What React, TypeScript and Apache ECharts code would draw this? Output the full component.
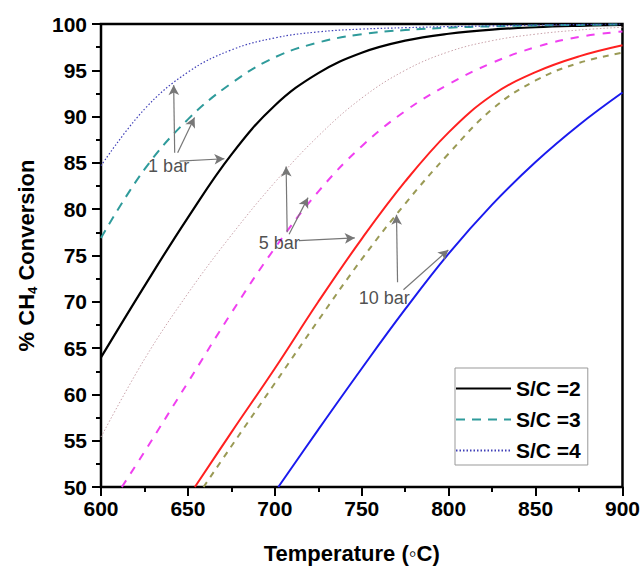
import React, { useEffect, useRef } from "react";
import * as echarts from "echarts";

// Temperatures (°C)
const temps = [600, 625, 650, 675, 700, 725, 750, 775, 800, 825, 850, 875, 900];

// 1 bar
const oneBarSC2 = [64.0, 71.7, 79.1, 85.9, 91.2, 94.7, 96.9, 98.2, 98.95, 99.4, 99.65, 99.8, 99.9];
const oneBarSC3 = [76.9, 84.3, 89.7, 93.6, 96.4, 98.0, 98.9, 99.35, 99.6, 99.75, 99.85, 99.9, 99.95];
const oneBarSC4 = [84.7, 90.8, 94.8, 97.2, 98.5, 99.15, 99.45, 99.6, 99.72, 99.8, 99.88, 99.94, 100];

// 5 bar
const fiveBarSC4 = [55.4, 63.8, 70.9, 77.2, 82.9, 87.9, 92.0, 95.0, 97.0, 98.2, 98.9, 99.35, 99.65];
const fiveBarSC3Temps = [612, 625, 650, 675, 700, 725, 750, 775, 800, 825, 850, 875, 900];
const fiveBarSC3 = [50, 53.8, 61.3, 68.8, 75.8, 81.9, 86.8, 90.6, 93.5, 95.8, 97.5, 98.6, 99.2];
const fiveBarSC2Temps = [654, 675, 700, 725, 750, 775, 800, 825, 850, 875, 900];
const fiveBarSC2 = [50, 55.9, 62.8, 70.0, 76.8, 83.0, 88.3, 92.3, 94.8, 96.5, 97.7];

// 10 bar
const tenBarSC3Temps = [659, 675, 700, 725, 750, 775, 800, 825, 850, 875, 900];
const tenBarSC3 = [50, 54.4, 61.2, 68.0, 74.6, 80.6, 86.0, 90.8, 93.9, 95.8, 96.9];
const tenBarSC2Temps = [702, 725, 750, 775, 800, 825, 850, 875, 900];
const tenBarSC2 = [50, 56.2, 62.8, 69.2, 75.2, 80.5, 85.1, 89.1, 92.6];

// Annotation labels [temperature, conversion]
const annotationNames = ["1 bar", "5 bar", "10 bar"];
const annotationPos = [
  [638.9, 84.7],
  [702.5, 76.3],
  [762.9, 70.4],
];
// Arrows: [fromX, fromY, toX, toY]
const arrows = [
  [642.4, 86.1, 641.8, 93.4],
  [644.1, 86.1, 653.8, 89.9],
  [645.2, 85.2, 671.0, 85.45],
  [707.1, 77.5, 706.5, 84.6],
  [708.2, 77.3, 719.1, 81.25],
  [713.9, 76.6, 746.0, 76.9],
  [770.6, 72.1, 770.0, 79.4],
  [774.0, 71.3, 799.8, 75.6],
];

const legendNames = ["S/C =2", "S/C =3", "S/C =4"];

const zip = (xs: number[], ys: number[]) => xs.map((x, i) => [x, ys[i]]);

const FONT = "Arial, 'Liberation Sans', sans-serif";

export default function App() {
  const ref = useRef<HTMLDivElement>(null);
  useEffect(() => {
    if (!ref.current) return;
    const chart = echarts.init(ref.current, undefined, { renderer: "svg" });
    const lineSeries = (
      name: string,
      data: number[][],
      color: string,
      width: number,
      type: any
    ) => ({
      name,
      type: "line",
      data,
      smooth: 0.4,
      symbol: "none",
      showSymbol: false,
      clip: true,
      lineStyle: { color, width, type },
      itemStyle: { color },
      z: 3,
    });
    chart.setOption({
      animation: false,
      backgroundColor: "#fff",
      grid: {
        left: 101,
        right: 18,
        top: 24,
        bottom: 81,
        show: true,
        borderColor: "#000",
        borderWidth: 2.5,
        backgroundColor: "transparent",
      },
      legend: {
        data: legendNames,
        orient: "vertical",
        left: 455,
        top: 368,
        itemWidth: 55,
        itemHeight: 20,
        itemGap: 10,
        padding: [10, 7, 4, 0],
        borderColor: "#999",
        borderWidth: 1,
        backgroundColor: "#fff",
        itemStyle: { opacity: 0, borderWidth: 0 },
        textStyle: {
          fontSize: 21,
          fontWeight: "bold",
          color: "#000",
          fontFamily: FONT,
        },
      },
      xAxis: {
        type: "value",
        min: 600,
        max: 900,
        interval: 50,
        name: "Temperature (\u25E6C)",
        nameLocation: "middle",
        nameGap: 55,
        nameTextStyle: {
          fontSize: 22,
          fontWeight: "bold",
          color: "#000",
          fontFamily: FONT,
          padding: [0, 20, 0, 0],
        },
        axisLine: { show: true, lineStyle: { color: "#000", width: 2 } },
        axisTick: { show: true, length: 9, lineStyle: { color: "#000", width: 2 } },
        minorTick: { show: true, splitNumber: 2, length: 5, lineStyle: { color: "#000", width: 2 } },
        axisLabel: {
          fontSize: 21,
          fontWeight: "bold",
          color: "#000",
          fontFamily: FONT,
          margin: 11,
        },
        splitLine: { show: false },
      },
      yAxis: {
        type: "value",
        min: 50,
        max: 100,
        interval: 5,
        name: "{a|% CH}{sub|4}{a| Conversion}",
        nameLocation: "middle",
        nameGap: 62,
        nameTextStyle: {
          fontFamily: FONT,
          rich: {
            a: {
              fontSize: 22,
              fontWeight: "bold",
              color: "#000",
              fontFamily: FONT,
              lineHeight: 26,
            },
            sub: {
              fontSize: 13,
              fontWeight: "bold",
              color: "#000",
              fontFamily: FONT,
              lineHeight: 14,
              verticalAlign: "bottom",
            },
          },
        },
        axisLine: { show: true, lineStyle: { color: "#000", width: 2 } },
        axisTick: { show: true, length: 9, lineStyle: { color: "#000", width: 2 } },
        minorTick: { show: true, splitNumber: 2, length: 5, lineStyle: { color: "#000", width: 2 } },
        axisLabel: {
          fontSize: 21,
          fontWeight: "bold",
          color: "#000",
          fontFamily: FONT,
          margin: 14,
        },
        splitLine: { show: false },
      },
      series: [
        lineSeries("S/C =2", zip(temps, oneBarSC2), "#000000", 2.2, "solid"),
        lineSeries("S/C =3", zip(temps, oneBarSC3), "#2f9b9b", 2, [9, 7]),
        lineSeries("S/C =4", zip(temps, oneBarSC4), "#4040b8", 1.2, [1.5, 2]),
        lineSeries("5 bar S/C =4", zip(temps, fiveBarSC4), "#c9a2aa", 1, [1.5, 2]),
        lineSeries("5 bar S/C =3", zip(fiveBarSC3Temps, fiveBarSC3), "#f040f0", 2, [8, 8]),
        lineSeries("5 bar S/C =2", zip(fiveBarSC2Temps, fiveBarSC2), "#ff2020", 2, "solid"),
        lineSeries("10 bar S/C =3", zip(tenBarSC3Temps, tenBarSC3), "#9a9a55", 2, [6, 6]),
        lineSeries("10 bar S/C =2", zip(tenBarSC2Temps, tenBarSC2), "#1a1aee", 2, "solid"),
        {
          name: "annotations",
          type: "scatter",
          symbolSize: 0,
          z: 5,
          data: annotationNames.map((n, i) => ({ name: n, value: annotationPos[i] })),
          label: {
            show: true,
            position: "inside",
            formatter: "{b}",
            fontSize: 18,
            color: "#222",
            fontFamily: FONT,
          },
          markLine: {
            silent: true,
            symbol: ["none", "arrow"],
            symbolSize: [8, 10],
            label: { show: false },
            lineStyle: { color: "#777", width: 1.2, type: "solid" },
            data: arrows.map((a) => [{ coord: [a[0], a[1]] }, { coord: [a[2], a[3]] }]),
          },
        },
      ],
    });
    return () => chart.dispose();
  }, []);
  return <div ref={ref} style={{ width: 643, height: 569, position: "absolute", left: 0, top: 0 }} />;
}
